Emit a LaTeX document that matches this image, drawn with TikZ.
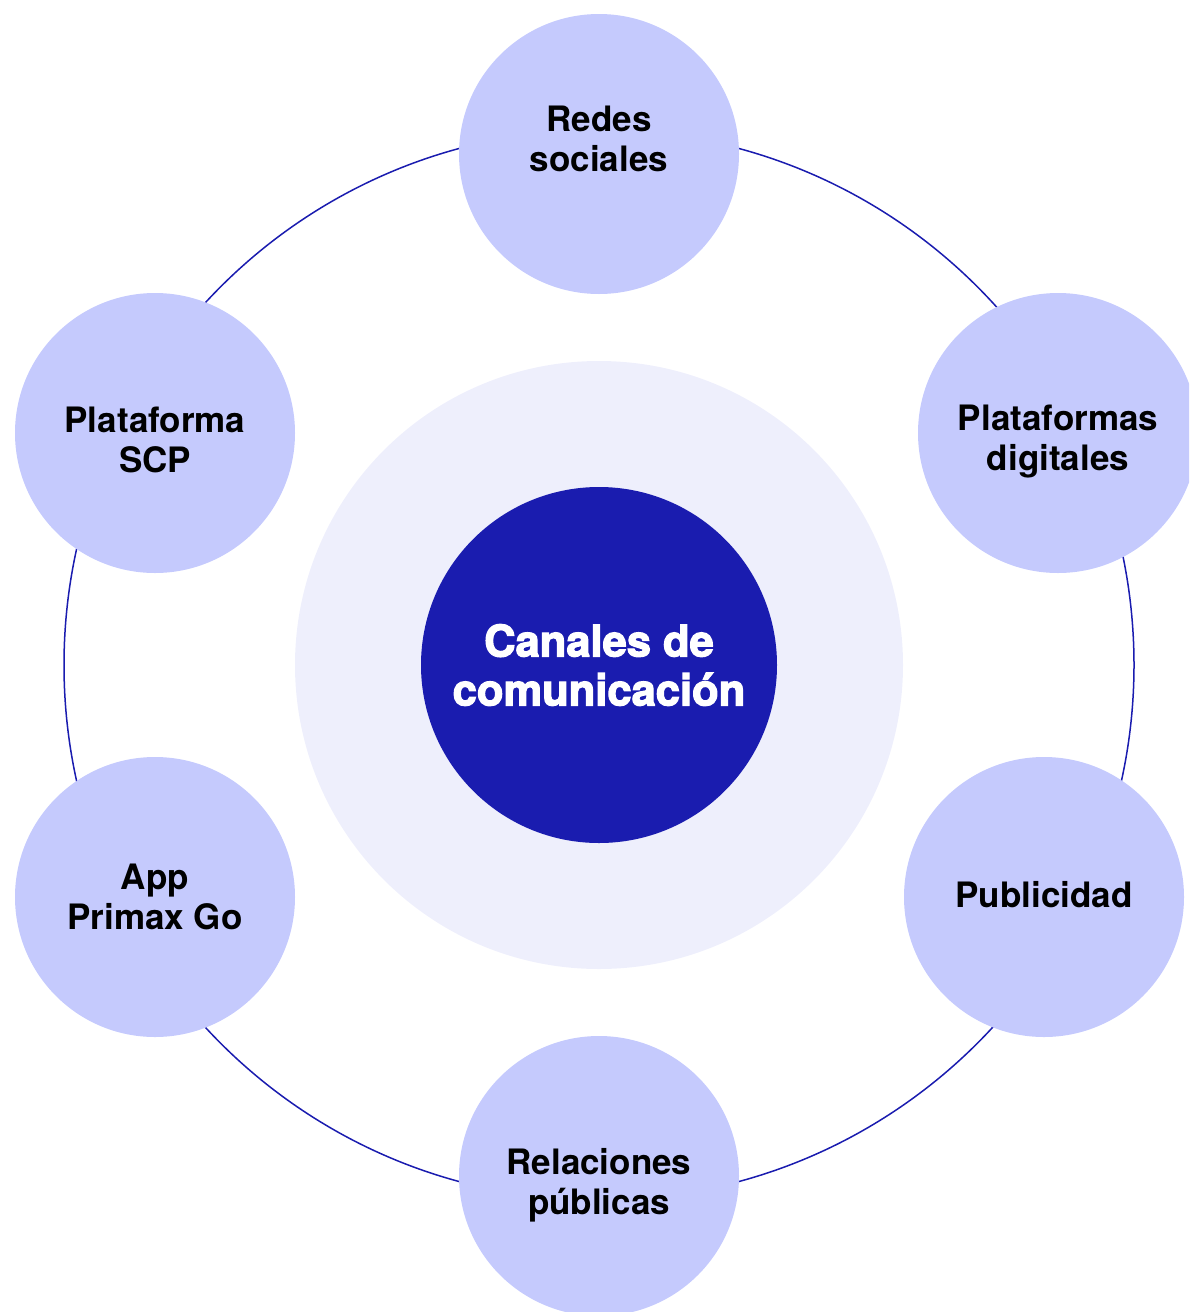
\documentclass[tikz,border=0pt]{standalone}
\usepackage{fontspec}
\setmainfont{TeX Gyre Heros}
\newfontfamily\heavyfont[FakeBold=2.8]{TeX Gyre Heros Bold}
\definecolor{ringblue}{HTML}{1A1CAF}
\definecolor{petal}{HTML}{C5CAFD}
\definecolor{halo}{HTML}{EEEFFC}
\tikzset{
  petalcirc/.style={circle, fill=petal, minimum size=280pt, inner sep=0pt},
  petaltext/.style={align=center, font=\fontsize{35}{40}\selectfont\bfseries, text=black},
}
\begin{document}
\begin{tikzpicture}[x=1pt,y=-1pt]
\useasboundingbox (0,0) rectangle (1189,1312);
\clip (0,0) rectangle (1189,1312);
\coordinate (c) at (599,665);
\draw[ringblue, line width=1.5pt] (c) circle[radius=535];
\node[circle, fill=halo, minimum size=608pt, inner sep=0pt] (halo) at (c) {};
\node[circle, fill=ringblue, minimum size=356pt, inner sep=0pt] (core) at (c) {};
\node[align=center, text=white, font=\fontsize{43.5}{49}\selectfont\heavyfont] (coretext) at (599,665) {Canales de\\comunicación};
\node[petalcirc] (p1) at (599,154) {};
\node[petalcirc] (p2) at (1058,433) {};
\node[petalcirc] (p3) at (1044,897) {};
\node[petalcirc] (p4) at (599,1176) {};
\node[petalcirc] (p5) at (155,897) {};
\node[petalcirc] (p6) at (155,433) {};
\node[petaltext] (t1) at (599,139) {Redes\\sociales};
\node[petaltext] (t2) at (1058,442) {Plataformas\\digitales};
\node[petaltext] (t3) at (1044,895) {Publicidad};
\node[petaltext] (t4) at (599,1185) {Relaciones\\públicas};
\node[petaltext] (t5) at (155,897) {App\\Primax Go};
\node[petaltext] (t6) at (155,440) {Plataforma\\SCP};
\end{tikzpicture}
\end{document}
